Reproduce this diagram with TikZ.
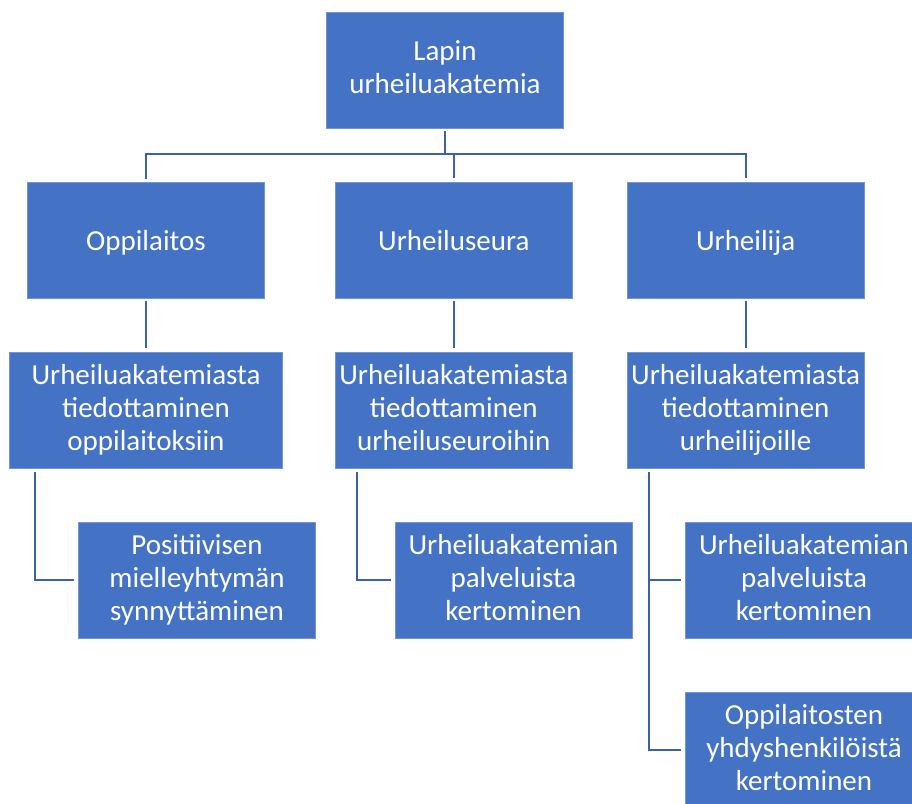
\documentclass[tikz,border=0pt]{standalone}
\usepackage{fontspec}
\setmainfont{Carlito}
\usetikzlibrary{positioning}
\definecolor{boxblue}{HTML}{4472C4}
\definecolor{lineblue}{HTML}{3A62AC}

\begin{document}
\begin{tikzpicture}[x=1pt,y=1pt]
   \tikzset{main node/.style={rectangle, fill=boxblue, draw=boxblue!75!white,
   		line width=0.8pt, text=white, align=center, inner sep=0pt,
   		minimum width=237pt, minimum height=116pt,
   		execute at begin node=\rule{0pt}{27pt},
   		execute at end node=\rule[-6pt]{0pt}{6pt},
   		font=\fontsize{29}{33}\selectfont}, }
   \tikzset{wide node/.style={main node, minimum width=273pt}, }
   \tikzset{linka/.style={draw=lineblue, line width=2pt,
   		shorten <=3pt, shorten >=4pt},}
\useasboundingbox (0,0) rectangle (912,803);

\node[main node] (1) at (445,733) {Lapin\\urheiluakatemia};
\node[main node] (2) at (146,563) {Oppilaitos};
\node[main node] (3) [right =70pt of 2] {Urheiluseura};
\node[main node] (4) [right =54pt of 3] {Urheilija};
\node[wide node] (5) [below =54pt of 2] {Urheiluakatemiasta\\tiedottaminen\\oppilaitoksiin};
\node[main node] (6) [below =54pt of 3] {Urheiluakatemiasta\\tiedottaminen\\urheiluseuroihin};
\node[main node] (7) [below =54pt of 4] {Urheiluakatemiasta\\tiedottaminen\\urheilijoille};
\node[main node] (8) at (197,223) {Positiivisen\\mielleyhtymän\\synnyttäminen};
\node[main node] (9) at (513.5,223) {Urheiluakatemian\\palveluista\\kertominen};
\node[main node] (10) at (804,223) {Urheiluakatemian\\palveluista\\kertominen};
\node[main node] (11) at (804,53) {Oppilaitosten\\yhdyshenkilöistä\\kertominen};

\draw[linka, shorten >=0pt] (1.south) -- ++(0,-26) coordinate (bus);
\draw[linka] (2.north) |- (bus) -| (4.north);
\draw[linka, shorten <=0pt] (bus) -| (3.north);
\foreach \x /\y in {2/5,3/6,4/7}
\draw[linka] (\x) -- (\y);
\draw[linka] ([xshift=26pt]5.south west) |- (8.west);
\draw[linka] ([xshift=22pt]6.south west) |- (9.west);
\draw[linka] ([xshift=22pt]7.south west) |- (10.west);
\draw[linka] ([xshift=22pt]7.south west) |- (11.west);
% 
\end{tikzpicture}
\end{document}
